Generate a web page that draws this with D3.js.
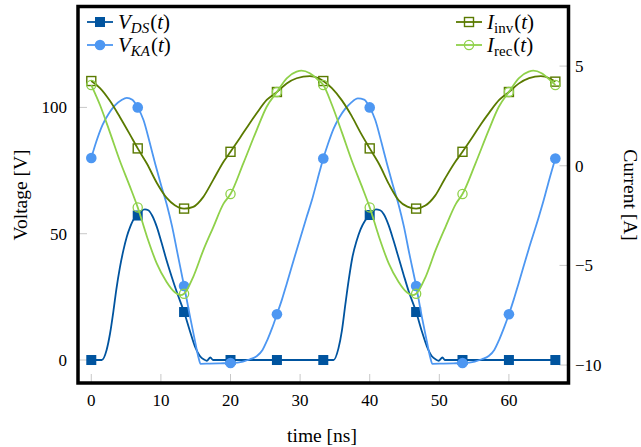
<!DOCTYPE html>
<html><head><meta charset="utf-8">
<script src="https://cdn.jsdelivr.net/npm/d3@7"></script>
<style>body{margin:0;background:#fff}svg{display:block}text{font-family:'Liberation Serif','DejaVu Serif',serif;fill:#000}</style>
</head><body><svg id="c" width="641" height="447"></svg>
<script>
// ---------- data ----------
const markerTimes = [0, 6.67, 13.33, 20, 26.67, 33.33, 40, 46.67, 53.33, 60, 66.67];
const xTicks = [0, 10, 20, 30, 40, 50, 60];
const vTicks = [0, 50, 100];
const iTicks = [-10, -5, 0, 5];

// V_DS(t) [V]
const vDS = [[0,0],[1.5,0],[2.2,4],[2.7,10.6],[3.2,19.8],[3.6,28],[4.1,36.5],[4.6,43.3],[5.1,48.8],[5.6,52.8],[6.0,55.3],[6.67,57.2],[7.2,59],[7.7,59.6],[8.2,59.3],[8.7,57.4],[9.4,52.8],[10.1,46.4],[10.8,39.6],[11.55,33],[12.3,26.8],[13.33,19],[14.2,11.2],[14.9,5.3],[15.6,1.6],[16.2,0.2],[16.6,-0.3],[17.1,1.0],[17.5,0],[20,0],[26.67,0],[33.33,0],[34.8,0],[35.5,4.5],[36.0,11.5],[36.5,22],[37.0,32],[37.5,40.5],[38.1,47],[38.7,51.8],[39.3,55],[40,57.4],[40.5,59],[40.9,59.6],[41.5,59.3],[42.0,57.8],[42.7,53.5],[43.4,47.5],[44.1,41],[44.9,33.5],[45.6,27.2],[46.67,19],[47.5,11.3],[48.2,5.5],[48.9,1.6],[49.5,0.2],[49.9,-0.3],[50.45,1.0],[50.8,0],[53.33,0],[60,0],[66.67,0]];

// V_KA(t) [V]
const vKA = [[0,80],[0.7,86.3],[1.6,93],[2.5,97.5],[3.4,100.8],[4.3,102.8],[5.1,103.8],[5.9,103],[6.67,100],[7.5,95],[8.4,86],[9.2,77.5],[10.0,69.5],[10.9,61],[11.6,53],[12.4,42],[13.33,29.3],[14.2,17],[14.9,7.5],[15.4,1],[15.7,-1.5],[17,-1.4],[18.5,-1.3],[20,-1.2],[21.0,-1.0],[21.8,-0.6],[22.8,0.3],[23.8,1.6],[24.6,4],[25.3,8],[26.0,12.8],[26.67,18.1],[27.4,24],[28.1,30.4],[29.5,43.5],[30.95,56.7],[31.7,63.3],[32.5,71.5],[33.33,79.8],[34.0,85.5],[34.8,91.5],[35.7,96.3],[36.5,99.5],[37.3,101.8],[38.3,103.6],[39.2,103.1],[40,100],[40.8,95],[41.7,86],[42.5,77.5],[43.3,69.5],[44.2,61],[44.9,53],[45.7,42],[46.67,29.3],[47.5,17],[48.2,7.5],[48.7,1],[49.0,-1.5],[50.5,-1.4],[52,-1.3],[53.33,-1.2],[54.3,-1.0],[55.1,-0.6],[56.1,0.3],[57.1,1.6],[57.9,4],[58.6,8],[59.3,12.8],[60,18.1],[60.7,24],[61.4,30.4],[62.8,43.5],[64.3,56.7],[65.0,63.3],[65.8,71.5],[66.67,79.8]];

// I_inv(t) [A]
const iInv = [[0,4.25],[1.25,3.9],[2.7,3.25],[4.1,2.45],[5.5,1.6],[6.67,0.87],[8.0,0.1],[9.4,-0.85],[10.8,-1.6],[12.0,-1.98],[13.33,-2.15],[14.65,-2.06],[16.1,-1.56],[17.5,-0.72],[19.0,0.2],[20,0.7],[21.4,1.42],[22.6,2.05],[23.76,2.63],[25.2,3.3],[26.67,3.7],[28.07,4.13],[29.5,4.39],[31.4,4.5],[32.6,4.4],[33.33,4.25],[34.6,3.88],[36.0,3.28],[37.4,2.5],[38.7,1.65],[40,0.87],[41.4,0.05],[42.8,-0.95],[44.2,-1.75],[45.4,-2.05],[46.67,-2.15],[48.0,-2.0],[49.4,-1.5],[50.8,-0.65],[52.3,0.2],[53.33,0.7],[54.8,1.45],[56.0,2.1],[57.2,2.68],[58.6,3.3],[60,3.7],[61.4,4.12],[62.9,4.4],[64.6,4.5],[65.9,4.38],[66.67,4.22]];

// I_rec(t) [A]
const iRec = [[0,4.05],[1.25,3.05],[2.7,1.65],[4.1,0.25],[5.5,-1.0],[6.67,-2.09],[8.0,-3.56],[9.4,-4.9],[10.8,-5.82],[12.0,-6.35],[12.8,-6.49],[13.33,-6.42],[14.65,-5.57],[16.1,-4.23],[17.5,-3.1],[19.0,-1.9],[20,-1.42],[21.84,0.12],[23.76,1.79],[25.2,2.96],[26.67,3.7],[28.07,4.39],[29.5,4.72],[30.2,4.77],[31.4,4.64],[32.6,4.3],[33.33,4.05],[34.58,3.05],[36.03,1.65],[37.43,0.25],[38.83,-1.0],[40,-2.09],[41.33,-3.56],[42.73,-4.9],[44.13,-5.82],[45.33,-6.35],[46.13,-6.49],[46.67,-6.42],[48.0,-5.6],[49.45,-4.25],[50.85,-3.1],[52.4,-1.9],[53.33,-1.42],[55.2,0.12],[57.1,1.79],[58.55,2.96],[60,3.7],[61.4,4.39],[62.85,4.72],[63.5,4.77],[64.7,4.64],[65.9,4.3],[66.67,4.05]];

// ---------- drawing ----------
const C = {vds:'#00549f', vka:'#4d97f2', inv:'#5a7a00', rec:'#8fd14a'};
const L = 78, R = 568.5, T = 6.5, B = 383;
const svg = d3.select('#c');
const x = d3.scaleLinear().domain([-1.91, 68.56]).range([L, R]);
const yV = d3.scaleLinear().domain([-9.1, 139.95]).range([B, T]);
const yI = d3.scaleLinear().domain([-10.9, 7.99]).range([B, T]);
const FS = 17, FT = 19.5;

// ticks (inside, light grey)
const tg = svg.append('g').attr('stroke', '#c8c8c8').attr('stroke-width', 1);
xTicks.forEach(t => tg.append('line').attr('x1', x(t)).attr('x2', x(t)).attr('y1', B).attr('y2', B - 9));
vTicks.forEach(v => tg.append('line').attr('x1', L).attr('x2', L + 9).attr('y1', yV(v)).attr('y2', yV(v)));
iTicks.forEach(v => tg.append('line').attr('x1', R).attr('x2', R - 9).attr('y1', yI(v)).attr('y2', yI(v)));

// tick labels
xTicks.forEach(t => svg.append('text').attr('x', x(t)).attr('y', 405.5).attr('text-anchor', 'middle').attr('font-size', FS).text(t));
vTicks.forEach(v => svg.append('text').attr('x', 67).attr('y', yV(v) + 6).attr('text-anchor', 'end').attr('font-size', FS).text(v));
iTicks.forEach(v => svg.append('text').attr('x', 575).attr('y', yI(v) + 6).attr('text-anchor', 'start').attr('font-size', FS).text(v < 0 ? '\u2212' + Math.abs(v) : v));

// axis titles
svg.append('text').attr('x', 322).attr('y', 442).attr('text-anchor', 'middle').attr('font-size', FT).text('time [ns]');
svg.append('text').attr('transform', 'translate(27,195) rotate(-90)').attr('text-anchor', 'middle').attr('font-size', FT).text('Voltage [V]');
svg.append('text').attr('transform', 'translate(624,195) rotate(90)').attr('text-anchor', 'middle').attr('font-size', FT).text('Current [A]');

// curves
svg.append('defs').append('clipPath').attr('id', 'clip').append('rect').attr('x', L).attr('y', T).attr('width', R - L).attr('height', B - T);
const plot = svg.append('g').attr('clip-path', 'url(#clip)');
const isMark = t => markerTimes.some(m => Math.abs(m - t) < 1e-6);

function drawSeries(data, ys, color, mark) {
  const line = d3.line().x(d => x(d[0])).y(d => ys(d[1])).curve(d3.curveMonotoneX);
  plot.append('path').attr('d', line(data)).attr('fill', 'none').attr('stroke', color).attr('stroke-width', 1.8).attr('stroke-linejoin', 'round');
  const pts = data.filter(d => isMark(d[0]));
  pts.forEach(d => drawMark(plot, x(d[0]), ys(d[1]), color, mark));
}
function drawMark(g, cx, cy, color, mark) {
  if (mark === 'sqf') g.append('rect').attr('x', cx - 5).attr('y', cy - 5).attr('width', 10).attr('height', 10).attr('fill', color);
  else if (mark === 'cf') g.append('circle').attr('cx', cx).attr('cy', cy).attr('r', 5.3).attr('fill', color);
  else if (mark === 'sqo') g.append('rect').attr('x', cx - 4.5).attr('y', cy - 4.5).attr('width', 9).attr('height', 9).attr('fill', 'none').attr('stroke', color).attr('stroke-width', 1.4);
  else g.append('circle').attr('cx', cx).attr('cy', cy).attr('r', 4.6).attr('fill', 'none').attr('stroke', color).attr('stroke-width', 1.3);
}
drawSeries(vDS, yV, C.vds, 'sqf');
drawSeries(vKA, yV, C.vka, 'cf');
drawSeries(iInv, yI, C.inv, 'sqo');
drawSeries(iRec, yI, C.rec, 'co');

// frame
svg.append('rect').attr('x', L).attr('y', T).attr('width', R - L).attr('height', B - T).attr('fill', 'none').attr('stroke', '#000').attr('stroke-width', 3.5);

// legends
function legendEntry(x0, y0, color, mark, main, sub, subItalic) {
  const g = svg.append('g');
  g.append('line').attr('x1', x0).attr('x2', x0 + 26).attr('y1', y0).attr('y2', y0).attr('stroke', color).attr('stroke-width', 1.8);
  drawMark(g, x0 + 13, y0, color, mark);
  const t = g.append('text').attr('x', x0 + 31).attr('y', y0 + 7).attr('font-size', 21);
  t.append('tspan').attr('font-style', 'italic').text(main);
  t.append('tspan').attr('font-style', subItalic ? 'italic' : 'normal').attr('font-size', 15).attr('dy', 4).text(sub);
  t.append('tspan').attr('dy', -4).attr('dx', 1).text('(');
  t.append('tspan').attr('font-style', 'italic').text('t');
  t.append('tspan').text(')');
}
legendEntry(87, 22, C.vds, 'sqf', 'V', 'DS', true);
legendEntry(87, 45, C.vka, 'cf', 'V', 'KA', true);
legendEntry(456, 22, C.inv, 'sqo', 'I', 'inv', false);
legendEntry(456, 45, C.rec, 'co', 'I', 'rec', false);
</script></body></html>
